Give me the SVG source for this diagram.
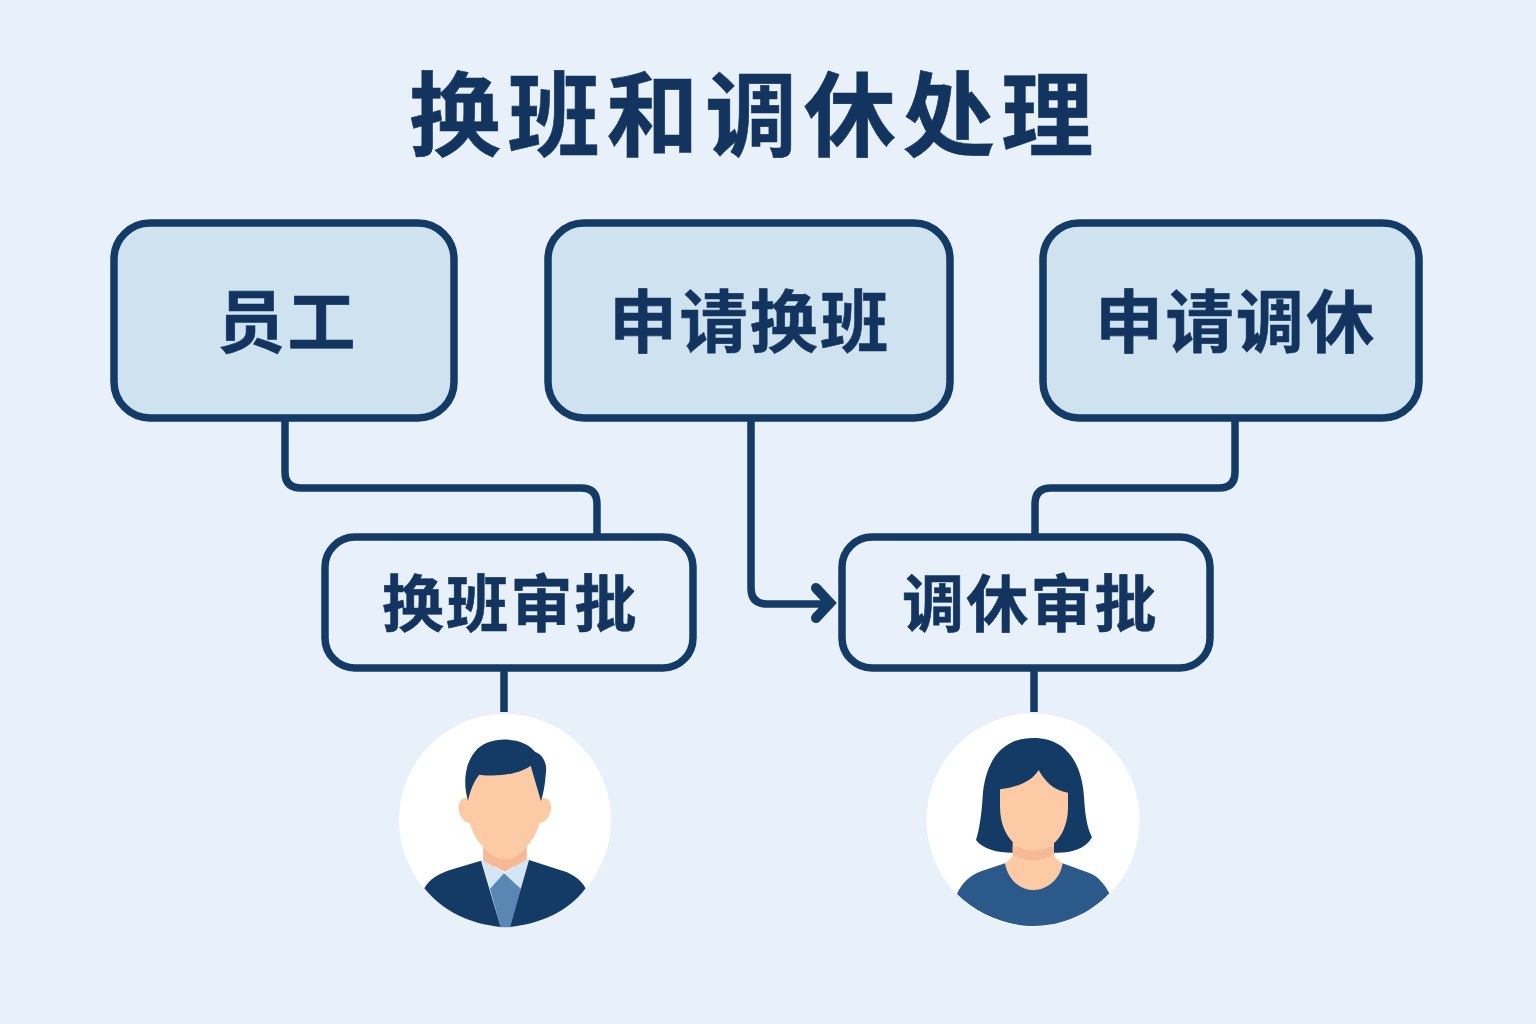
<svg xmlns="http://www.w3.org/2000/svg" width="1536" height="1024" viewBox="0 0 1536 1024">
<style>
text{font-family:"Noto Sans CJK SC","Noto Sans",sans-serif;font-weight:700;fill:#12345f;stroke:#12345f;stroke-width:.6px}
.title{font-size:92px;letter-spacing:6.7px}
.big{font-size:68px;letter-spacing:2.4px}
.small{font-size:62px;letter-spacing:2.2px}
.top{fill:#cfe2f0;stroke:#143a66;stroke-width:7.5}
.low{fill:#e8f1f9;stroke:#143a66;stroke-width:7.5}
.line{fill:none;stroke:#143a66;stroke-width:7.5}
.navy{fill:#143a66}.skin{fill:#fccba6}.neck{fill:#f6b998}
</style>
<rect width="1536" height="1024" fill="#e8f1f9"/>
<text class="title" x="409" y="149">换班和调休处理</text>
<g id="connectors">
<path class="line" d="M285 418V472Q285 488 301 488H581Q597 488 597 504V537"/>
<path class="line" d="M751 418V588Q751 604 767 604H826"/>
<path class="line" stroke-linecap="round" d="M816 588L830 603L816 618" style="stroke-width:10"/>
<path class="line" d="M1235 418V472Q1235 488 1219 488H1051Q1035 488 1035 504V537"/>
<path class="line" d="M504 668V712"/>
<path class="line" d="M1034 668V712"/>
</g>
<g id="node-employee"><rect class="top" x="114" y="223" width="340" height="195" rx="36"/><text class="big" x="217" y="347">员工</text></g>
<g id="node-apply-swap"><rect class="top" x="548" y="223" width="402" height="195" rx="36"/><text class="big" x="609" y="347">申请换班</text></g>
<g id="node-apply-leave"><rect class="top" x="1043" y="223" width="376" height="195" rx="36"/><text class="big" x="1095" y="347">申请调休</text></g>
<g id="node-swap-approve"><rect class="low" x="325" y="537" width="368" height="131" rx="30"/><text class="small" x="382" y="627">换班审批</text></g>
<g id="node-leave-approve"><rect class="low" x="842" y="537" width="368" height="131" rx="30"/><text class="small" x="902" y="627">调休审批</text></g>
<g id="node-man">
<circle cx="505" cy="820" r="106" fill="#fff"/>
<g transform="translate(380 700) scale(.33333)">
<path class="skin" d="M262 295C240 290 232 315 237 335C242 358 258 372 285 370ZM486 295C508 290 518 315 512 335C506 358 490 372 465 370Z"/>
<path class="skin" d="M310 430H440V500H310Z"/>
<path class="neck" d="M310 440C345 490 405 490 440 440V478L375 515L310 482Z"/>
<path class="skin" d="M262 190H486V320C486 400 430 472 374 472C318 472 262 400 262 320Z"/>
<path d="M303 480L375 518L447 475L424 566L372 520L330 566Z" fill="#d3e4f2"/>
<path d="M372 520L423 566L390 682H362L330 566Z" fill="#5a86b3"/>
<path class="navy" d="M303 482L362 681C270 672 190 635 133 565C150 535 175 522 210 510Z"/>
<path class="navy" d="M447 480L390 681C480 672 565 635 617 565C600 535 575 520 540 510Z"/>
<path class="navy" d="M264 302C248 250 255 190 285 155C320 108 425 105 465 155C490 165 503 190 497 225C495 255 490 280 483 304L452 197C420 222 350 232 298 224C280 245 270 275 264 302Z"/>
</g>
</g>
<g id="node-woman">
<circle cx="1033" cy="820" r="106.5" fill="#fff"/>
<g transform="translate(910 700) scale(.33333)">
<path class="navy" d="M370 114C270 114 225 190 218 290C215 340 208 390 198 420C220 450 270 460 320 458H430C480 460 525 450 546 412C530 380 525 340 522 290C515 190 470 114 370 114Z"/>
<path d="M285 490L215 513C180 525 155 550 141 582C200 640 285 678 372 678C460 678 540 640 598 580C585 555 565 530 540 520L458 490L372 530Z" fill="#2b5a8a"/>
<path class="skin" d="M308 425V462C305 475 295 482 285 490C295 545 335 570 372 570C410 570 450 540 458 490C445 482 435 475 432 462V425Z"/>
<path class="neck" d="M308 440H432V462C395 488 345 488 308 462Z"/>
<path class="skin" d="M270 268C320 262 365 245 386 210C405 245 430 270 474 278V320C474 400 430 452 372 452C315 452 270 400 270 320Z"/>
</g>
</g>
</svg>
